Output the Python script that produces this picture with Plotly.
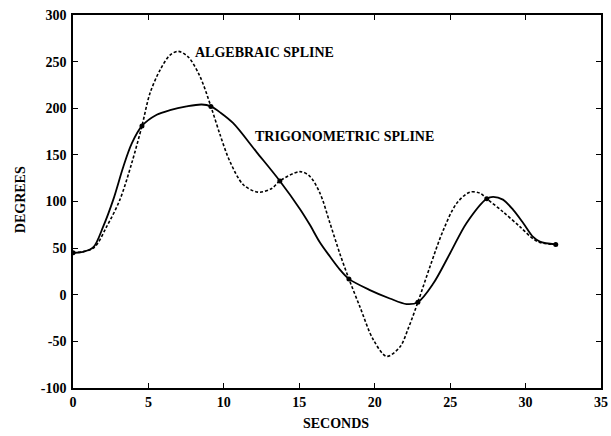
import plotly.graph_objects as go

# Knot points (marked dots) shared by both splines
knot_t = [0.0, 4.57, 9.14, 13.71, 18.29, 22.86, 27.43, 32.0]
knot_deg = [45, 181, 202, 122, 17, -8, 103, 54]

# Trigonometric spline (solid)
trig_t = [0.0, 0.68, 1.35, 2.0, 2.67, 3.33, 3.89, 4.57, 5.55, 6.43, 7.53, 8.53, 9.14,
          9.8, 10.62, 12.17, 13.71, 15.04, 15.7, 16.37, 17.03, 17.69, 18.29, 19.68, 21.0,
          22.11, 22.86, 23.88, 24.98, 26.09, 27.43, 27.85, 28.5, 29.18, 29.84, 30.5, 30.95, 32.0]
trig_deg = [45, 46, 51, 73, 102, 137, 162, 181, 193, 198, 202, 204, 202,
            195, 184, 153, 122, 92, 75, 56, 41, 27, 17, 5, -4,
            -10, -8, 12, 44, 77, 103, 105, 102, 91, 77, 62, 57, 54]

# Algebraic spline (dashed)
alg_t = [0.0, 1.35, 2.23, 3.11, 3.89, 4.57, 5.1, 5.77, 6.43, 6.98, 7.64, 8.42, 9.14,
         9.74, 10.4, 11.29, 12.28, 13.17, 13.71, 15.04, 15.7, 16.37, 17.03, 17.69, 18.29,
         19.02, 19.9, 20.79, 21.67, 22.25, 22.86, 23.66, 24.54, 25.43, 26.3, 26.97, 27.43,
         28.5, 29.62, 30.5, 30.95, 32.0]
alg_deg = [45, 50, 73, 102, 141, 181, 216, 241, 257, 261, 255, 234, 202,
           172, 143, 118, 110, 114, 122, 132, 127, 109, 77, 44, 17,
           -13, -48, -66, -56, -35, -8, 30, 69, 98, 110, 109, 103,
           89, 73, 60, 56, 54]

x_ticks = [0, 5, 10, 15, 20, 25, 30, 35]
y_ticks = [-100, -50, 0, 50, 100, 150, 200, 250, 300]

font_family = "Liberation Serif, Times New Roman, serif"

fig = go.Figure()
fig.add_trace(go.Scatter(x=alg_t, y=alg_deg, mode="lines",
                         line=dict(color="black", width=1.6, dash="3px,2px", shape="spline", smoothing=0.9),
                         showlegend=False, hoverinfo="skip"))
fig.add_trace(go.Scatter(x=trig_t, y=trig_deg, mode="lines",
                         line=dict(color="black", width=1.8, shape="spline", smoothing=0.9),
                         showlegend=False, hoverinfo="skip"))
fig.add_trace(go.Scatter(x=knot_t, y=knot_deg, mode="markers",
                         marker=dict(color="black", size=5),
                         showlegend=False))

fig.add_annotation(x=7.95, y=260, text="<b>ALGEBRAIC SPLINE</b>", showarrow=False,
                   xanchor="left", yanchor="middle",
                   font=dict(family=font_family, size=14, color="black"))
fig.add_annotation(x=11.93, y=170, text="<b>TRIGONOMETRIC SPLINE</b>", showarrow=False,
                   xanchor="left", yanchor="middle",
                   font=dict(family=font_family, size=14, color="black"))

# Axis titles as annotations (precise placement)
fig.add_annotation(x=0.498, y=-0.094, xref="paper", yref="paper", text="<b>SECONDS</b>",
                   showarrow=False, xanchor="center", yanchor="middle",
                   font=dict(family=font_family, size=14, color="black"))
fig.add_annotation(x=-0.100, y=0.504, xref="paper", yref="paper", text="<b>DEGREES</b>",
                   showarrow=False, xanchor="center", yanchor="middle", textangle=-90,
                   font=dict(family=font_family, size=14, color="black"))

tickfont = dict(family=font_family, size=14, color="black", weight="bold")
axis_common = dict(showgrid=False, zeroline=False, showline=True, linecolor="black",
                   linewidth=1.5, mirror="ticks", ticks="inside", ticklen=5,
                   tickcolor="black", tickwidth=1, automargin=False, tickfont=tickfont,
                   ticklabeloverflow="allow")

fig.update_xaxes(range=[0, 35], tickvals=x_ticks, ticktext=[str(v) for v in x_ticks],
                 **axis_common)
fig.update_yaxes(range=[-100, 300], tickvals=y_ticks, ticktext=[str(v) for v in y_ticks],
                 ticklabelstandoff=2, **axis_common)

fig.update_layout(width=611, height=436,
                  margin=dict(l=73, r=10, t=15, b=48),
                  paper_bgcolor="white", plot_bgcolor="white")

# remove the default 8px page margin so the figure fills the window exactly
fig.write_html("out.html", config={"displayModeBar": False},
               post_script="document.body.style.margin='0';")
